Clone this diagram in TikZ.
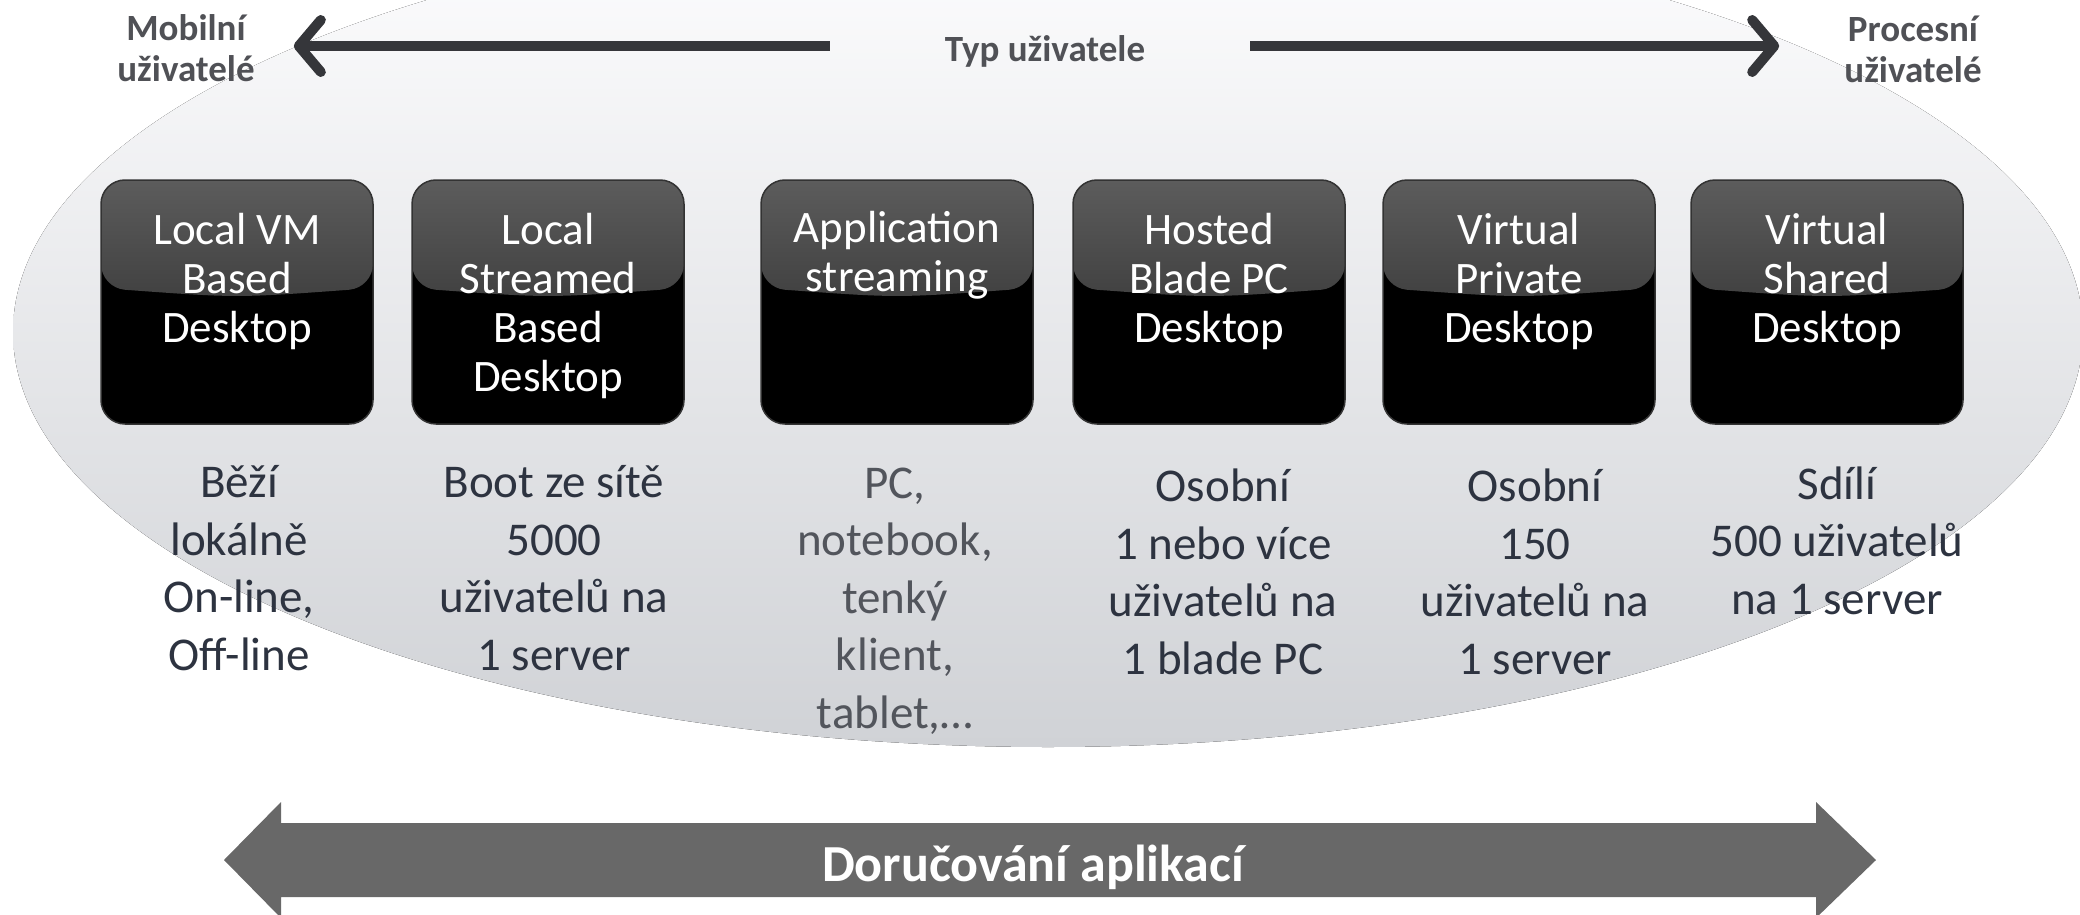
\documentclass[tikz,border=0pt]{standalone}
\usepackage{fontspec}
\setmainfont{Carlito}
\usetikzlibrary{arrows.meta}
\definecolor{ellTop}{RGB}{254,254,255}
\definecolor{ellMid}{RGB}{237,239,242}
\definecolor{ellBot}{RGB}{208,210,214}
\definecolor{glossTop}{RGB}{92,92,92}
\definecolor{glossBot}{RGB}{36,36,36}
\definecolor{labGrey}{RGB}{80,81,86}
\definecolor{arrGrey}{RGB}{53,54,58}
\definecolor{noteDark}{RGB}{45,51,64}
\definecolor{noteLight}{RGB}{82,85,92}
\definecolor{bandGrey}{RGB}{104,104,104}
\tikzset{
  deskbox/.style={draw=black!80, line width=1.5pt, fill=black, rounded corners=24pt,
    minimum width=272pt, minimum height=244pt, inner sep=0pt,
    path picture={
      \fill[top color=glossTop, bottom color=glossBot]
        (path picture bounding box.north west) --
        ([yshift=-108pt]path picture bounding box.north west) .. controls
        ([yshift=-118pt]path picture bounding box.north) ..
        ([yshift=-108pt]path picture bounding box.north east) --
        (path picture bounding box.north east) -- cycle;
    }},
  boxtext/.style={text=white, align=center, anchor=base, inner sep=0pt,
    font=\fontsize{45}{49}\selectfont},
  note/.style={text=noteDark, align=center, anchor=base, inner sep=0pt,
    font=\fontsize{47}{57.5}\selectfont},
  usertext/.style={text=labGrey, align=center, inner sep=0pt,
    font=\bfseries\fontsize{37}{41}\selectfont},
  toparrow/.style={draw=arrGrey, line width=10pt,
    -{Straight Barb[round, length=22pt, width=52pt]}}
}
\begin{document}
\begin{tikzpicture}[x=1pt, y=-1pt]
  \useasboundingbox (0,0) rectangle (2080,915);
  \fill[top color=ellTop, middle color=ellMid, bottom color=ellBot]
    (1048,332) ellipse [x radius=1035, y radius=415];

  \node[usertext] (mob) at (186,48) {Mobilní\\uživatelé};
  \node[usertext] (proc) at (1913,49) {Procesní\\uživatelé};
  \node[usertext, anchor=base] (typ) at (1045,62) {Typ uživatele};
  \draw[toparrow] ([xshift=-115pt]typ.west |- 0,46) -- ([xshift=39pt]mob.east |- 0,46);
  \draw[toparrow] ([xshift=105pt]typ.east |- 0,46) -- ([xshift=-65pt]proc.west |- 0,46);

  \node[deskbox] (lvm) at (237,302) {};
  \node[deskbox] (lsd) at (548,302) {};
  \node[deskbox] (app) at (897,302) {};
  \node[deskbox] (hbpc) at (1209,302) {};
  \node[deskbox] (vpd) at (1519,302) {};
  \node[deskbox] (vsd) at (1827,302) {};

  % base = last line
  \node[boxtext] (lvmt) at ([yshift=-163pt]lvm.north) {Local VM\\Based\\Desktop};
  \node[boxtext] (lsdt) at ([yshift=-212pt]lsd.north) {Local\\Streamed\\Based\\Desktop};
  \node[boxtext] (appt) at ([yshift=-112pt]app.north) {Application\\streaming};
  \node[boxtext] (hbpct) at ([yshift=-163pt]hbpc.north) {Hosted\\Blade PC\\Desktop};
  \node[boxtext] (vpdt) at ([yshift=-163pt]vpd.north) {Virtual\\Private\\Desktop};
  \node[boxtext] (vsdt) at ([yshift=-163pt]vsd.north) {Virtual\\Shared\\Desktop};

  \node[note] (lvmn) at (239,670) {Běží\\lokálně\\On-line,\\Off-line};
  \node[note] (lsdn) at (554,670) {Boot ze sítě\\5000\\uživatelů na\\1 server};
  \node[note, text=noteLight] (appn) at (895,728) {PC,\\notebook,\\tenký\\klient,\\tablet,…};
  \node[note] (hbpcn) at (1223,674) {Osobní\\1 nebo více\\uživatelů na\\1 blade PC};
  \node[note] (vpdn) at (1535,674) {Osobní\\150\\uživatelů na\\1 server};
  \node[note] (vsdn) at (1837,614) {Sdílí\\500 uživatelů\\na 1 server};

  \fill[bandGrey] (224,860) -- (281,802) -- (281,823) -- (1816,823) -- (1816,802)
    -- (1876,860) -- (1816,918) -- (1816,897) -- (281,897) -- (281,918) -- cycle;
  \node[text=white, anchor=base, font=\bfseries\fontsize{52}{60}\selectfont] (deliv)
    at (1033,881) {Doručování aplikací};
\end{tikzpicture}
\end{document}
